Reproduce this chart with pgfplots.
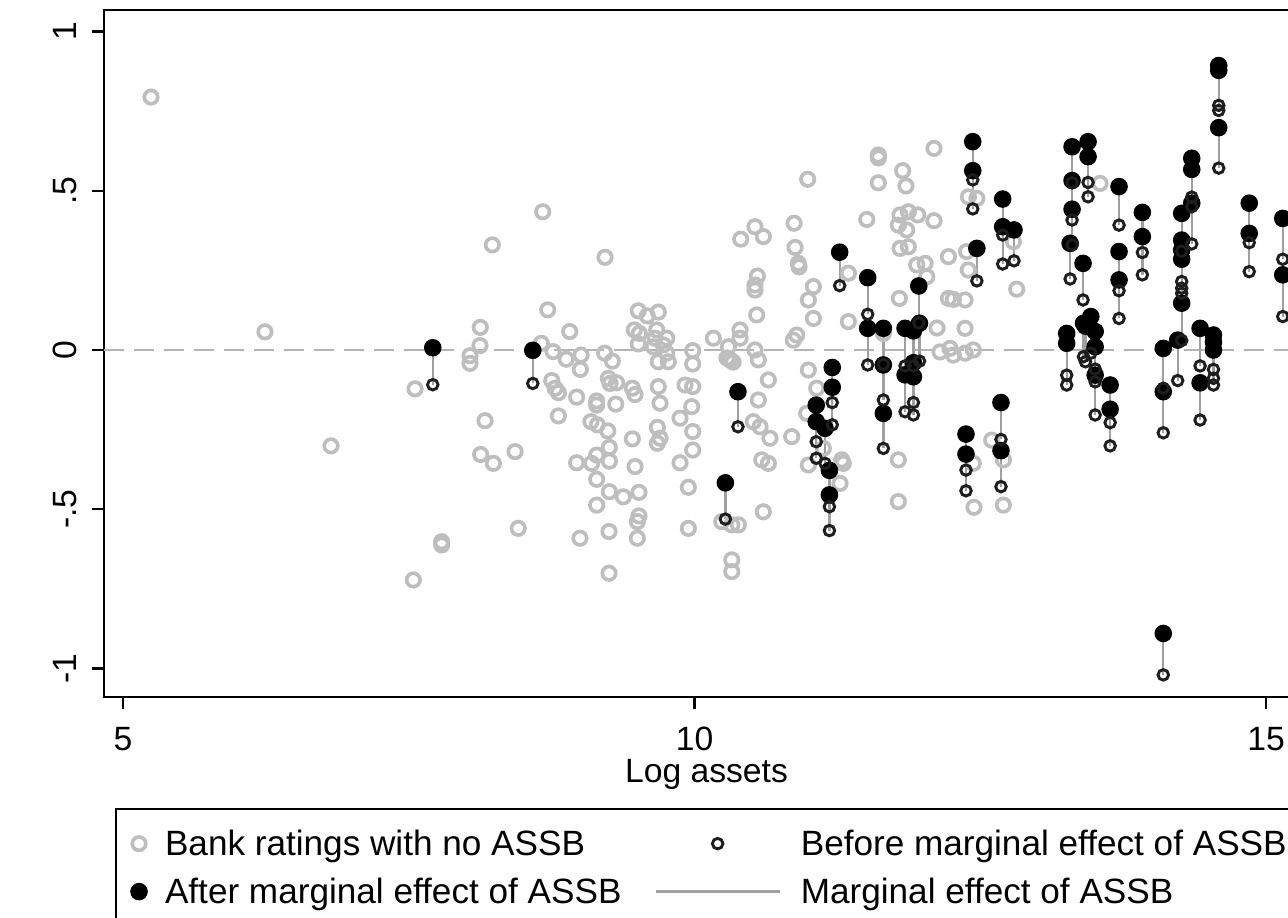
\documentclass[border=0pt]{standalone}
\usepackage{pgfplots}
\pgfplotsset{compat=1.18}
\usepackage{pgfplotstable}
\usepackage{fontspec}
\setmainfont{Liberation Sans}
\definecolor{ltgray}{RGB}{190,190,190}
\definecolor{dashgray}{RGB}{180,180,180}
\definecolor{linegray}{RGB}{160,160,160}
\definecolor{ringblack}{RGB}{30,30,30}

\pgfplotsset{
  legnarrow/.style={legend image code/.code={\path[draw=none,fill=none] (-0.15cm,0) -- (0.15cm,0); \draw[##1] plot coordinates {(0cm,0cm)};}},
  legwide/.style={legend image code/.code={\path[draw=none,fill=none] (-0.744cm,0) -- (0.744cm,0); \draw[##1] plot coordinates {(0cm,0cm)};}},
  legline/.style={legend image code/.code={\draw[##1] (-0.744cm,0) -- (0.744cm,0);}},
}

\pgfplotstableread{
x y
5.245 0.794
6.242 0.057
6.820 -0.301
7.555 -0.122
7.540 -0.722
7.788 -0.602
7.788 -0.612
8.036 -0.018
8.036 -0.042
8.123 0.014
8.126 0.071
8.167 -0.222
8.129 -0.328
8.240 -0.356
8.231 0.330
8.430 -0.319
8.458 -0.560
8.672 0.434
8.716 0.126
8.660 0.021
8.762 -0.005
8.908 0.058
8.878 -0.029
9.007 -0.016
9.001 -0.061
8.751 -0.096
8.780 -0.120
8.809 -0.134
8.969 -0.148
9.144 -0.160
8.809 -0.207
8.969 -0.354
8.998 -0.591
9.217 0.291
9.214 -0.010
9.281 -0.035
9.246 -0.089
9.261 -0.105
9.319 -0.103
9.144 -0.173
9.311 -0.170
9.094 -0.225
9.150 -0.235
9.241 -0.254
9.255 -0.306
9.144 -0.330
9.255 -0.349
9.100 -0.356
9.144 -0.406
9.255 -0.445
9.377 -0.461
9.144 -0.487
9.252 -0.570
9.252 -0.701
9.508 0.123
9.587 0.107
9.683 0.119
9.473 0.063
9.517 0.052
9.669 0.063
9.757 0.037
9.508 0.019
9.640 0.010
9.727 0.016
9.757 -0.010
9.683 -0.037
9.771 -0.037
9.654 0.037
9.984 -0.002
9.984 -0.044
9.456 -0.120
9.480 -0.140
9.683 -0.115
9.917 -0.110
9.984 -0.115
9.698 -0.167
9.975 -0.178
9.456 -0.279
9.675 -0.243
9.698 -0.277
9.675 -0.293
9.873 -0.214
9.984 -0.256
9.480 -0.366
9.873 -0.354
9.984 -0.314
9.946 -0.431
9.514 -0.447
9.514 -0.521
9.500 -0.539
9.500 -0.591
9.946 -0.560
10.165 0.037
10.398 0.063
10.398 0.037
10.296 0.010
10.311 -0.031
10.284 -0.025
10.337 -0.038
10.529 0.000
10.558 -0.031
10.544 0.110
10.529 0.188
10.646 -0.094
10.558 -0.157
10.514 -0.225
10.573 -0.241
10.660 -0.277
10.588 -0.345
10.646 -0.356
10.602 -0.508
10.238 -0.539
10.326 -0.549
10.384 -0.549
10.326 -0.659
10.326 -0.696
10.404 0.348
10.529 0.387
10.602 0.356
10.550 0.232
10.529 0.204
10.871 0.398
10.880 0.322
10.908 0.272
10.915 0.261
11.040 0.199
10.996 0.157
11.040 0.099
10.894 0.047
10.864 0.031
10.990 0.536
11.346 0.241
11.346 0.089
11.507 0.410
11.608 0.612
11.608 0.603
11.608 0.525
11.821 0.563
11.850 0.515
12.095 0.633
11.798 0.424
11.871 0.434
11.953 0.424
12.095 0.406
11.783 0.392
11.856 0.377
11.798 0.319
11.871 0.324
11.944 0.267
12.017 0.272
12.032 0.230
12.221 0.293
12.221 0.162
11.792 0.162
11.652 0.052
10.996 -0.063
11.069 -0.120
10.850 -0.272
10.982 -0.199
10.996 -0.361
11.288 -0.345
11.302 -0.356
11.273 -0.419
11.127 -0.309
11.783 -0.345
11.783 -0.476
12.380 0.309
12.395 0.251
12.264 0.159
12.367 0.157
12.819 0.191
12.367 0.068
12.235 0.005
12.264 -0.016
12.367 -0.010
12.439 0.000
12.396 0.481
12.470 0.476
12.790 0.340
13.548 0.523
12.600 -0.283
12.439 -0.356
12.702 -0.345
12.445 -0.494
12.702 -0.487
12.122 0.069
12.148 -0.006
}\graydata

\pgfplotstableread{
x after before
7.710 0.007 -0.109
8.585 -0.001 -0.105
10.380 -0.131 -0.241
10.270 -0.417 -0.531
11.270 0.307 0.202
11.515 0.227 0.112
11.515 0.068 -0.047
11.205 -0.055 -0.165
11.205 -0.117 -0.235
11.065 -0.173 -0.288
11.065 -0.225 -0.340
11.142 -0.246 -0.356
11.180 -0.378 -0.492
11.180 -0.455 -0.567
11.652 0.068 -0.045
11.652 -0.047 -0.157
11.652 -0.199 -0.309
11.842 0.068 -0.050
11.842 -0.078 -0.194
11.915 0.060 -0.050
11.915 -0.040 -0.165
11.915 -0.084 -0.204
11.962 0.201 0.085
11.968 0.084 -0.035
12.434 0.654 0.534
12.434 0.563 0.443
12.470 0.319 0.217
12.696 0.474 0.361
12.696 0.387 0.270
12.795 0.377 0.280
12.375 -0.264 -0.377
12.375 -0.327 -0.442
12.681 -0.165 -0.281
12.681 -0.316 -0.429
13.303 0.638 0.525
13.303 0.532 0.408
13.303 0.442 0.330
13.286 0.335 0.223
13.443 0.654 0.526
13.443 0.607 0.481
13.399 0.272 0.157
13.714 0.513 0.392
13.714 0.309 0.186
13.714 0.220 0.099
13.918 0.432 0.306
13.918 0.356 0.236
14.586 0.893 0.768
14.586 0.878 0.752
14.586 0.698 0.571
14.350 0.602 0.480
14.350 0.567 0.450
14.350 0.461 0.333
14.262 0.429 0.310
14.262 0.345 0.215
14.262 0.314 0.194
14.262 0.285 0.178
14.262 0.147 0.030
14.227 0.031 -0.096
14.853 0.461 0.337
14.853 0.366 0.246
15.146 0.413 0.285
15.146 0.236 0.105
13.256 0.052 -0.079
13.256 0.021 -0.110
13.403 0.084 -0.021
13.420 0.075 -0.037
13.467 0.105 -0.010
13.505 0.058 -0.060
13.505 0.010 -0.100
13.505 -0.079 -0.204
13.636 -0.110 -0.228
13.636 -0.186 -0.301
14.101 0.005 -0.120
14.101 -0.131 -0.260
14.101 -0.890 -1.020
14.423 0.068 -0.050
14.423 -0.103 -0.220
14.540 0.047 -0.061
14.540 0.025 -0.089
14.540 0.000 -0.110
}\pairdata

\begin{document}
\begin{tikzpicture}[font=\fontsize{11.5}{13.8}\selectfont]
\useasboundingbox (-1.248,-2.652) rectangle (14.208,8.364);
\clip (-1.248,-2.652) rectangle (14.208,8.364);
\begin{axis}[
  at={(0,0)}, anchor=south west,
  scale only axis, width=14.46cm, height=8.244cm,
  xmin=4.8338, xmax=15.376, ymin=-1.0895, ymax=1.0675,
  axis line style={line width=0.7pt},
  tick style={line width=0.7pt, black},
  tick align=outside, major tick length=0.144cm,
  tick pos=left,
  xtick={5,10,15}, xticklabels={5,10,15},
  ytick={-1,-0.5,0,0.5,1}, yticklabels={-1,-.5,0,.5,1},
  minor tick num=0,
  /pgf/number format/assume math mode=true,
  xticklabel style={anchor=north, inner sep=0pt, text height=0.29cm, text depth=0pt},
  xticklabel shift=0.2cm,
  yticklabel style={rotate=90, anchor=south, inner sep=0pt, text depth=0pt},
  yticklabel shift=0.174cm,
  xlabel={Log assets},
  xlabel style={at={(axis description cs:0.5,0)}, anchor=base, yshift=-1.032cm, inner sep=0pt},
  legend columns=2,
  legend cell align=left,
  legend style={
    at={(axis description cs:0.00913,-0.1616)}, anchor=north west,
    draw=black, line width=0.7pt, fill=white,
    font=\fontsize{12}{14}\selectfont,
    inner xsep=0.126cm, inner ysep=0.27cm,
    row sep=0.286cm,
    nodes={inner sep=0pt, text height=0.29cm, text depth=0pt},
    /tikz/column 1/.style={column sep=0.162cm},
    /tikz/column 2/.style={column sep=0.396cm},
    /tikz/column 3/.style={column sep=0.24cm},
  },
]
\addplot[forget plot, dashgray, line width=0.7pt, dash pattern=on 0.24cm off 0.12cm] coordinates {(4.8338,0) (15.376,0)};
\addplot[forget plot, only marks, mark=o, ltgray, mark size=2.3pt, line width=1.25pt] table[x=x,y=y] {\graydata};
\addplot[forget plot, only marks, mark=*, black, mark size=2.8pt, line width=0.4pt] table[x=x,y=after] {\pairdata};
\addplot[forget plot, linegray, line width=0.8pt, mark=none,
  quiver={u=0, v=\thisrow{after}-\thisrow{before}}, -]
  table[x=x, y=before] {\pairdata};
\addplot[forget plot, only marks, mark=o, ringblack, mark size=1.8pt, line width=1.0pt] table[x=x,y=before] {\pairdata};

\addlegendimage{only marks, mark=o, ltgray, mark size=2.3pt, line width=1.25pt, legnarrow}
\addlegendimage{only marks, mark=o, ringblack, mark size=1.8pt, line width=1.0pt, legwide}
\addlegendimage{only marks, mark=*, black, mark size=2.8pt, line width=0.4pt, legnarrow}
\addlegendimage{linegray, line width=0.8pt, legline}
\legend{Bank ratings with no ASSB, Before marginal effect of ASSB, After marginal effect of ASSB, Marginal effect of ASSB}
\end{axis}
\end{tikzpicture}
\end{document}
